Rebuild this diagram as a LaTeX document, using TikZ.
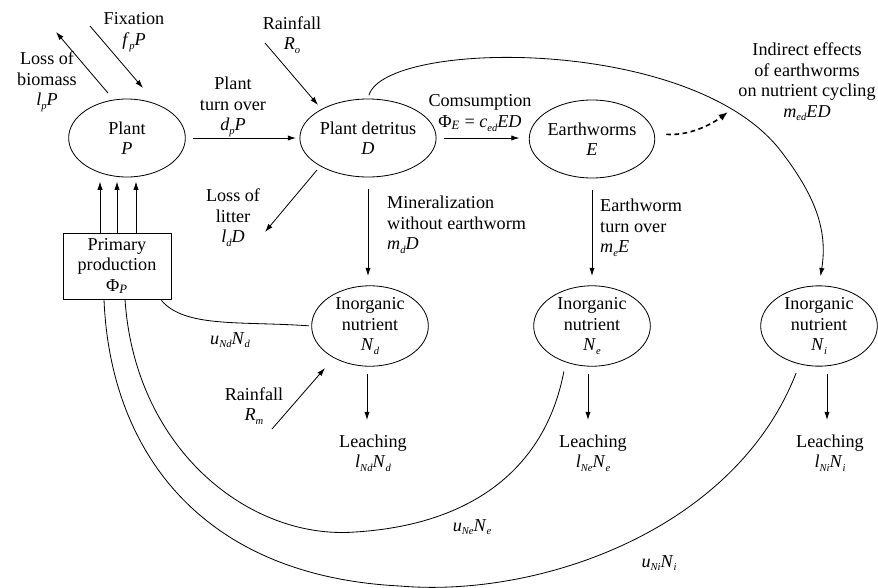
\documentclass[tikz,border=0pt]{standalone}
\usepackage{fontspec}
\setmainfont{Liberation Serif}
\usepackage{tikz}
\usetikzlibrary{arrows.meta, positioning, calc, shapes.geometric}
\newcommand{\nsub}[2]{\textit{#1}\raisebox{-0.45ex}{\fontsize{9}{9}\selectfont\textit{#2}}}

\begin{document}
\begin{tikzpicture}[x=0.03cm, y=-0.03cm, line join=round,
        every node/.style={font=\fontsize{15.5}{17.5}\selectfont},
        pool/.style={ellipse, draw, line width=0.7pt, minimum width=3.5cm,
                     minimum height=2.34cm, inner sep=0pt, align=center},
        flow/.style={line width=0.7pt, -{Latex[length=7pt, width=4.5pt]}},
        dashflow/.style={line width=1.4pt, dash pattern=on 4pt off 3pt,
                         -{Latex[length=8pt, width=6pt]}},
        lbl/.style={align=center, inner sep=0pt}]
    \useasboundingbox (0,0) rectangle (878,587);

    % pools
    \node[pool] (plant)    at (127,138) {Plant\\ \textit{P}};
    \node[pool] (detritus) at (368,138) {Plant detritus\\ \textit{D}};
    \node[pool] (worms)    at (592,139) {Earthworms\\ \textit{E}};
    \node[pool] (nd) at (370,326) {Inorganic\\ nutrient\\ \nsub{N}{d}};
    \node[pool] (ne) at (592,326) {Inorganic\\ nutrient\\ \nsub{N}{e}};
    \node[pool] (ni) at (819,326) {Inorganic\\ nutrient\\ \nsub{N}{i}};
    \node[draw, line width=0.7pt, minimum width=3.24cm, minimum height=1.98cm,
          align=center, inner sep=1pt] (prod) at (117,266)
          {Primary\\ production\\ Φ\textsubscript{\textit{P}}};

    % free ends
    \coordinate (bioFrom) at (108,93);   \coordinate (bioTo) at (56,32);
    \coordinate (fixFrom) at (90,26);    \coordinate (fixTo) at (143,88);
    \coordinate (rainOFrom) at (265,43); \coordinate (rainOTo) at (318,105);
    \coordinate (litFrom) at (317,170);  \coordinate (litTo) at (265,232);
    \coordinate (rainMFrom) at (272,429); \coordinate (rainMTo) at (325,368);
    \coordinate (leachD) at (367,420);
    \coordinate (leachE) at (588,420);
    \coordinate (leachI) at (827,420);
    \coordinate (indirect) at (728,112);

    % labels
    \node[lbl] (bioLbl) at (47,82) {Loss of\\ biomass\\ \nsub{l}{p}\textit{P}};
    \node[lbl] (fixLbl) at (134,32) {Fixation\\ \nsub{f}{p}\textit{P}};
    \node[lbl] (turnLbl) at (233,107) {Plant\\ turn over\\ \nsub{d}{p}\textit{P}};
    \node[lbl] (rainOLbl) at (292,35) {Rainfall\\ \nsub{R}{o}};
    \node[lbl] (consLbl) at (480,113)
          {Comsumption\\ Φ\textsubscript{\textit{E}} = \nsub{c}{ed}\textit{ED}};
    \node[lbl] (indLbl) at (807,82)
          {Indirect effects\\ of earthworms\\ on nutrient cycling\\ \nsub{m}{ed}\textit{ED}};
    \node[lbl] (litLbl) at (233,218) {Loss of\\ litter\\ \nsub{l}{d}\textit{D}};
    \node[lbl, anchor=west, align=left] (minLbl) at (387,225)
          {Mineralization\\ without earthworm\\ \nsub{m}{d}\textit{D}};
    \node[lbl, anchor=west, align=left] (ewLbl) at (600,228)
          {Earthworm\\ turn over\\ \nsub{m}{e}\textit{E}};
    \node[lbl] (uNdLbl) at (230,340) {\nsub{u}{Nd}\nsub{N}{d}};
    \node[lbl] (rainMLbl) at (254,406) {Rainfall\\ \nsub{R}{m}};
    \node[lbl] (leachDLbl) at (373,453) {Leaching\\ \nsub{l}{Nd}\nsub{N}{d}};
    \node[lbl] (leachELbl) at (593,453) {Leaching\\ \nsub{l}{Ne}\nsub{N}{e}};
    \node[lbl] (leachILbl) at (830,453) {Leaching\\ \nsub{l}{Ni}\nsub{N}{i}};
    \node[lbl] (uNeLbl) at (472,527) {\nsub{u}{Ne}\nsub{N}{e}};
    \node[lbl] (uNiLbl) at (659,563) {\nsub{u}{Ni}\nsub{N}{i}};

    % straight flows
    \draw[flow] (bioFrom) -- (bioTo);
    \draw[flow] (fixFrom) -- (fixTo);
    \draw[flow] (rainOFrom) -- (rainOTo);
    \draw[flow] (litFrom) -- (litTo);
    \draw[flow] (rainMFrom) -- (rainMTo);
    \draw[flow, shorten <=6pt, shorten >=3pt] (plant.east) -- (plant.east -| detritus.west);
    \draw[flow, shorten <=6pt, shorten >=8pt] (detritus.east) -- (detritus.east -| worms.west);
    \draw[flow, shorten <=10pt, shorten >=8pt] (detritus.south) -- (detritus.south |- nd.north);
    \draw[flow, shorten <=10pt, shorten >=8pt] (worms.south) -- (worms.south |- ne.north);
    \draw[flow, shorten <=6pt] (nd.south -| leachD) -- (leachD);
    \draw[flow, shorten <=6pt] (ne.south -| leachE) -- (leachE);
    \draw[flow, shorten <=6pt] (ni.south -| leachI) -- (leachI);
    \foreach \dx in {-17,0,19} {
        \draw[flow] ($(prod.north)+(\dx,0)$) -- ++(0,-51);
    }

    % curved flows
    \draw[flow, shorten <=3pt, shorten >=8pt] (detritus.north)
        .. controls (385,40) and (690,35) .. (780,150)
        .. controls (815,195) and (828,230) .. (ni.north);
    \draw[dashflow, shorten <=10pt] (worms.5)
        .. controls (690,136) and (712,124) .. (indirect);
    \draw[line width=0.7pt, shorten >=2pt] ($(prod.south east)+(-10,1)$)
        .. controls (185,328) and (240,321) .. (nd.west);
    \draw[line width=0.7pt, shorten <=8pt] (ne.234)
        .. controls (545,470) and (470,525) .. (355,532)
        .. controls (250,540) and (135,450) .. ($(prod.south)+(8,0)$);
    \draw[line width=0.7pt, shorten <=8pt] (ni.243)
        .. controls (735,530) and (540,598) .. (400,586)
        .. controls (200,576) and (110,450) .. ($(prod.south)+(-13,0)$);
\end{tikzpicture}
\end{document}
